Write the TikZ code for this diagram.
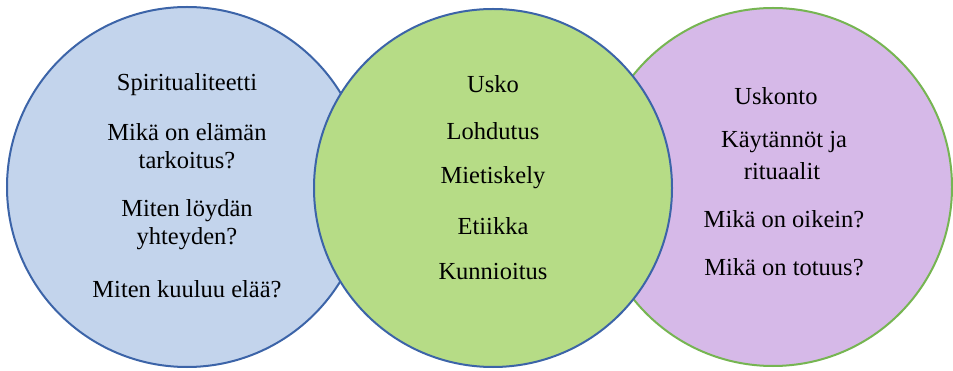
\documentclass[tikz,border=0pt]{standalone}
\usepackage{fontspec}
\setmainfont{Liberation Serif}
\definecolor{bluefill}{HTML}{C3D4EC}
\definecolor{blueline}{HTML}{3C64A8}
\definecolor{greenfill}{HTML}{B6DC86}
\definecolor{greenline}{HTML}{76B552}
\definecolor{purplefill}{HTML}{D6B9E8}
\tikzset{
  disc/.style={circle, inner sep=0pt, line width=2pt},
  txt/.style={inner sep=0pt, align=center, font=\fontsize{24.5}{28}\selectfont, text=black}
}
\begin{document}
\begin{tikzpicture}[x=1pt, y=-1pt]
\useasboundingbox (0,0) rectangle (953,371);
% the three discs: blue and purple underneath, green on top
\node[disc, draw=blueline, fill=bluefill, minimum size=360pt] (spirit) at (187,187) {};
\node[disc, draw=greenline, fill=purplefill, minimum size=358pt] (religion) at (773,187) {};
\node[disc, draw=blueline, fill=greenfill, minimum size=358pt] (faith) at (493,188) {};
% left disc
\node[txt] (s1) at (187,85) {Spiritualiteetti};
\node[txt] (s2) at (187,132) {Mikä on elämän};
\node[txt] (s3) at (187,160) {tarkoitus?};
\node[txt] (s4) at (187,211) {Miten löydän};
\node[txt] (s5) at (187,239) {yhteyden?};
\node[txt] (s6) at (187,289) {Miten kuuluu elää?};
% middle disc
\node[txt] (f1) at (493,84) {Usko};
\node[txt] (f2) at (493,131) {Lohdutus};
\node[txt] (f3) at (493,178) {Mietiskely};
\node[txt] (f4) at (493,226) {Etiikka};
\node[txt] (f5) at (493,272) {Kunnioitus};
% right disc
\node[txt] (r1) at (776,96) {Uskonto};
\node[txt] (r2) at (784,142) {Käytännöt ja};
\node[txt] (r3) at (782,171) {rituaalit};
\node[txt] (r4) at (784,219) {Mikä on oikein?};
\node[txt] (r5) at (784,267) {Mikä on totuus?};
\end{tikzpicture}
\end{document}
